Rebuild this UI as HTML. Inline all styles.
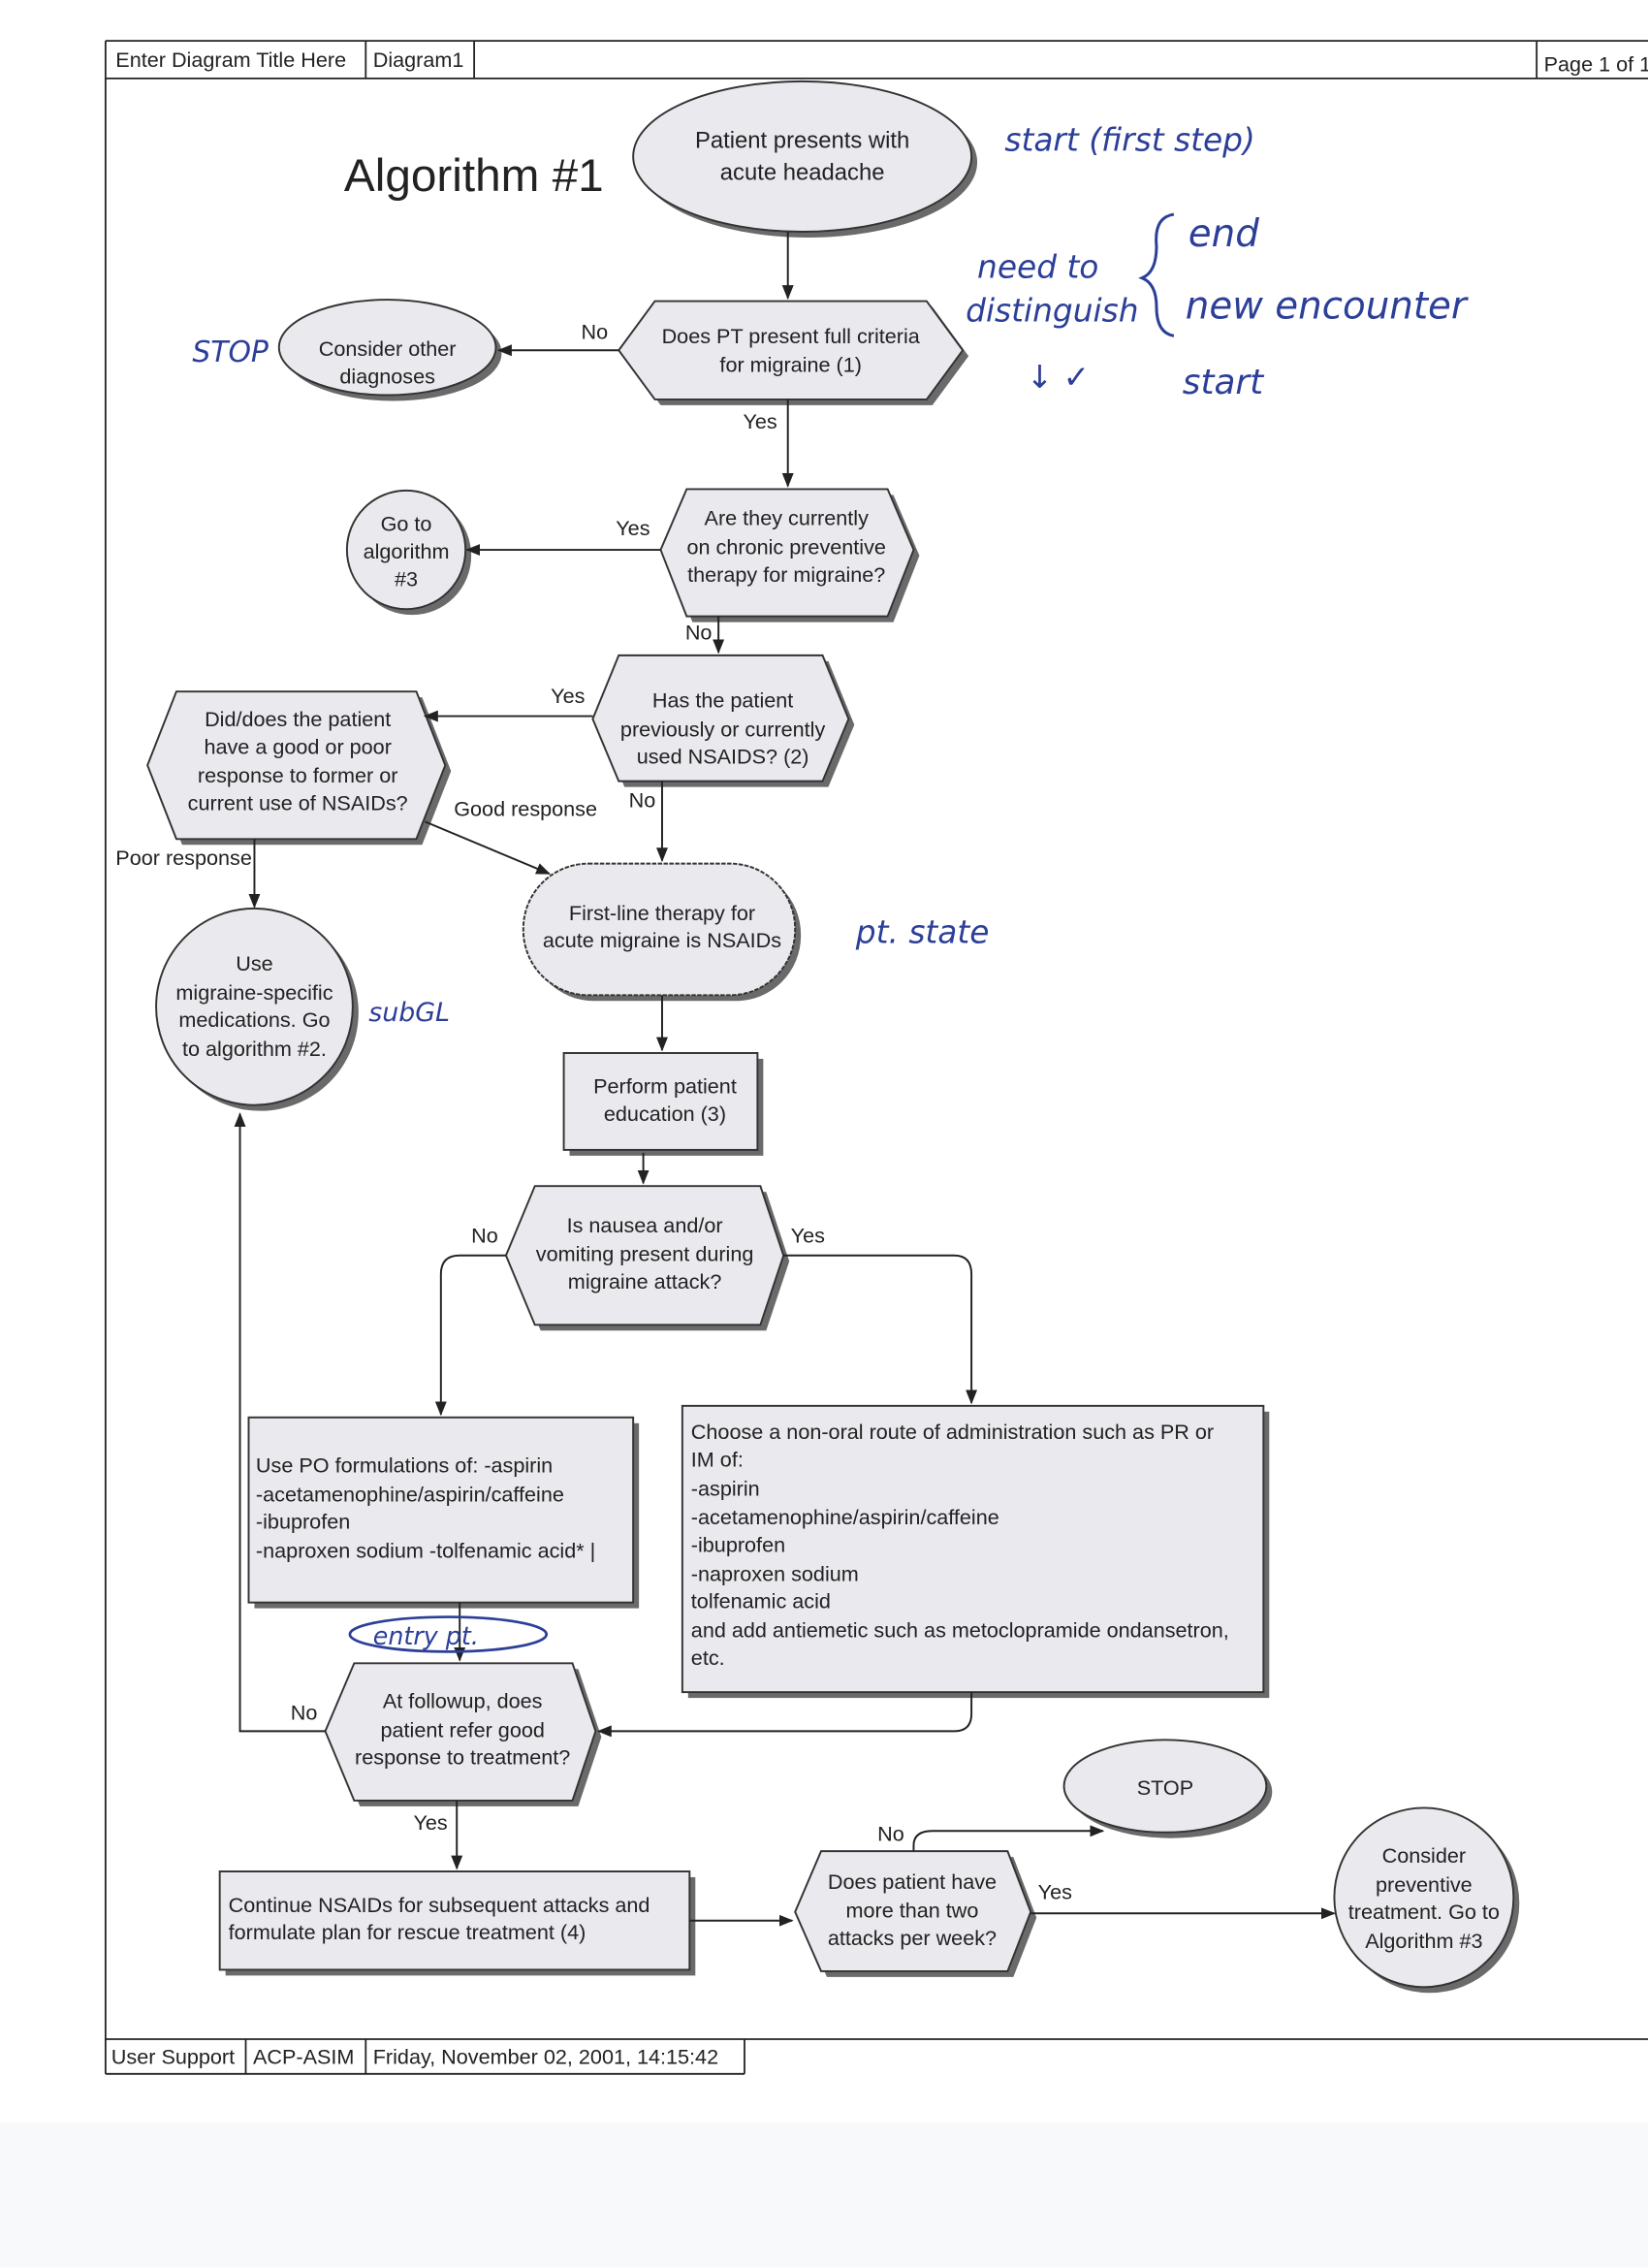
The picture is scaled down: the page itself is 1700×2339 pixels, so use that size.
<!DOCTYPE html>
<html><head><meta charset="utf-8"><style>
html,body{margin:0;padding:0;background:#fff}
svg{display:block}
text{font-family:"Liberation Sans",Arial,sans-serif;font-size:14.5px;fill:#222}
.hw{font-family:"DejaVu Sans","Liberation Sans",sans-serif;font-style:italic;fill:#2c3f98;font-size:22px}
.sh{fill:#6a6a6a}
.nd{fill:#e9e9ee;stroke:#333;stroke-width:1.3}
.ln{stroke:#222;stroke-width:1.3;fill:none}
</style></head><body>
<svg width="1700" height="2339" viewBox="0 0 1140 1568" xmlns="http://www.w3.org/2000/svg">
<defs><marker id="a" markerWidth="10" markerHeight="10" refX="9" refY="5" orient="auto" markerUnits="userSpaceOnUse"><path d="M0,1 L10,5 L0,9 z" fill="#222"/></marker></defs>
<rect x="0" y="1468" width="1140" height="100" fill="#f8f9fb"/>
<g class="ln" style="stroke-width:1.2">
<line x1="73" y1="28" x2="1140" y2="28"/><line x1="73" y1="54" x2="1140" y2="54"/>
<line x1="73" y1="28" x2="73" y2="1434"/><line x1="253" y1="28" x2="253" y2="54"/><line x1="328" y1="28" x2="328" y2="54"/><line x1="1063" y1="28" x2="1063" y2="54"/>
<line x1="73" y1="1410" x2="1140" y2="1410"/><line x1="73" y1="1434" x2="515" y2="1434"/>
<line x1="170" y1="1410" x2="170" y2="1434"/><line x1="253" y1="1410" x2="253" y2="1434"/><line x1="515" y1="1410" x2="515" y2="1434"/>
</g>
<text x="80" y="46">Enter Diagram Title Here</text><text x="258" y="46">Diagram1</text><text x="1068" y="49">Page 1 of 1</text>
<text x="77" y="1427">User Support</text><text x="175" y="1427">ACP-ASIM</text><text x="258" y="1427">Friday, November 02, 2001, 14:15:42</text>
<text x="238" y="132" style="font-size:32px">Algorithm #1</text>

<g class="sh">
<ellipse cx="559" cy="112" rx="117" ry="52"/>
<polygon points="432,246 457,212 645,212 670,246 645,280 457,280"/>
<ellipse cx="272" cy="244" rx="75" ry="33"/>
<polygon points="461,384 479,342 618,342 636,384 618,430 479,430"/>
<circle cx="285" cy="384" r="41"/>
<polygon points="414,501 432,457 573,457 591,501 573,544 432,544"/>
<polygon points="106,533 126,482 292,482 312,533 292,584 126,584"/>
<rect x="366" y="601" width="188" height="91" rx="45"/>
<circle cx="180" cy="700" r="68"/>
<rect x="394" y="732" width="134" height="67"/>
<polygon points="354,872 374,824 530,824 546,872 530,920 374,920"/>
<rect x="176" y="984" width="266" height="128"/>
<rect x="476" y="976" width="402" height="198"/>
<polygon points="229,1201 249,1154 400,1154 416,1201 400,1249 249,1249"/>
<rect x="156" y="1298" width="325" height="68"/>
<polygon points="554,1326 572,1284 701,1284 717,1326 701,1367 572,1367"/>
<ellipse cx="810" cy="1239" rx="70" ry="32"/>
<circle cx="989" cy="1316" r="62"/>
</g>
<ellipse class="nd" cx="555" cy="108" rx="117" ry="52"/>
<polygon class="nd" points="428,242 453,208 641,208 666,242 641,276 453,276"/>
<ellipse class="nd" cx="268" cy="240" rx="75" ry="33"/>
<polygon class="nd" points="457,380 475,338 614,338 632,380 614,426 475,426"/>
<circle class="nd" cx="281" cy="380" r="41"/>
<polygon class="nd" points="410,497 428,453 569,453 587,497 569,540 428,540"/>
<polygon class="nd" points="102,529 122,478 288,478 308,529 288,580 122,580"/>
<rect class="nd" x="362" y="597" width="188" height="91" rx="45" style="stroke-dasharray:3 1"/>
<circle class="nd" cx="176" cy="696" r="68"/>
<rect class="nd" x="390" y="728" width="134" height="67"/>
<polygon class="nd" points="350,868 370,820 526,820 542,868 526,916 370,916"/>
<rect class="nd" x="172" y="980" width="266" height="128"/>
<rect class="nd" x="472" y="972" width="402" height="198"/>
<polygon class="nd" points="225,1197 245,1150 396,1150 412,1197 396,1245 245,1245"/>
<rect class="nd" x="152" y="1294" width="325" height="68"/>
<polygon class="nd" points="550,1322 568,1280 697,1280 713,1322 697,1363 568,1363"/>
<ellipse class="nd" cx="806" cy="1235" rx="70" ry="32"/>
<circle class="nd" cx="985" cy="1312" r="62"/>

<g class="ln" marker-end="url(#a)">
<line x1="545" y1="160" x2="545" y2="206"/>
<line x1="428" y1="242" x2="345" y2="242"/>
<line x1="545" y1="276" x2="545" y2="336"/>
<line x1="457" y1="380" x2="323" y2="380"/>
<line x1="497" y1="426" x2="497" y2="451"/>
<line x1="410" y1="495" x2="294" y2="495"/>
<line x1="458" y1="540" x2="458" y2="595"/>
<line x1="294" y1="568" x2="380" y2="604"/>
<line x1="176" y1="580" x2="176" y2="627"/>
<line x1="458" y1="688" x2="458" y2="726"/>
<line x1="445" y1="797" x2="445" y2="818"/>
<path d="M350,868 H318 Q305,868 305,881 V978"/>
<path d="M542,868 H660 Q672,868 672,881 V970"/>
<line x1="318" y1="1108" x2="318" y2="1148"/>
<path d="M672,1170 V1185 Q672,1197 660,1197 H414"/>
<path d="M225,1197 H166 V770"/>
<line x1="316" y1="1245" x2="316" y2="1292"/>
<line x1="477" y1="1328" x2="548" y2="1328"/>
<line x1="713" y1="1323" x2="923" y2="1323"/>
<path d="M632,1280 V1276 Q632,1266 645,1266 H763"/>
</g>
<text x="402" y="234">No</text><text x="514" y="296">Yes</text><text x="426" y="370">Yes</text><text x="474" y="442">No</text>
<text x="381" y="486">Yes</text><text x="435" y="558">No</text><text x="314" y="564">Good response</text><text x="80" y="598">Poor response</text>
<text x="326" y="859">No</text><text x="547" y="859">Yes</text><text x="201" y="1189">No</text><text x="286" y="1265">Yes</text>
<text x="607" y="1273">No</text><text x="718" y="1313">Yes</text>

<g text-anchor="middle">
<text x="555" y="102" style="font-size:16px">Patient presents with</text><text x="555" y="124" style="font-size:16px">acute headache</text>
<text x="547" y="237">Does PT present full criteria</text><text x="547" y="257">for migraine (1)</text>
<text x="268" y="246">Consider other</text><text x="268" y="265">diagnoses</text>
<text x="544" y="363">Are they currently</text><text x="544" y="383">on chronic preventive</text><text x="544" y="402">therapy for migraine?</text>
<text x="281" y="367">Go to</text><text x="281" y="386">algorithm</text><text x="281" y="405">#3</text>
<text x="500" y="489">Has the patient</text><text x="500" y="509">previously or currently</text><text x="500" y="528">used NSAIDS? (2)</text>
<text x="206" y="502">Did/does the patient</text><text x="206" y="521">have a good or poor</text><text x="206" y="541">response to former or</text><text x="206" y="560">current use of NSAIDs?</text>
<text x="458" y="636">First-line therapy for</text><text x="458" y="655">acute migraine is NSAIDs</text>
<text x="176" y="671">Use</text><text x="176" y="691">migraine-specific</text><text x="176" y="710">medications.  Go</text><text x="176" y="730">to algorithm #2.</text>
<text x="460" y="756">Perform patient</text><text x="460" y="775">education (3)</text>
<text x="446" y="852">Is nausea and/or</text><text x="446" y="872">vomiting present during</text><text x="446" y="891">migraine attack?</text>
<text x="320" y="1181">At followup, does</text><text x="320" y="1201">patient refer good</text><text x="320" y="1220">response to treatment?</text>
<text x="631" y="1306">Does patient have</text><text x="631" y="1326">more than two</text><text x="631" y="1345">attacks per week?</text>
<text x="806" y="1241">STOP</text>
<text x="985" y="1288">Consider</text><text x="985" y="1308">preventive</text><text x="985" y="1327">treatment. Go to</text><text x="985" y="1347">Algorithm #3</text>
</g>
<text x="177" y="1018">Use PO formulations of: -aspirin</text><text x="177" y="1038">-acetamenophine/aspirin/caffeine</text><text x="177" y="1057">-ibuprofen</text><text x="177" y="1077">-naproxen sodium -tolfenamic acid* |</text>
<text x="478" y="995">Choose a non-oral route of administration such as PR or</text><text x="478" y="1014">IM of:</text><text x="478" y="1034">-aspirin</text><text x="478" y="1054">-acetamenophine/aspirin/caffeine</text><text x="478" y="1073">-ibuprofen</text><text x="478" y="1093">-naproxen sodium</text><text x="478" y="1112">tolfenamic acid</text><text x="478" y="1132">and add antiemetic such as metoclopramide ondansetron,</text><text x="478" y="1151">etc.</text>
<text x="158" y="1322">Continue NSAIDs for subsequent attacks and</text><text x="158" y="1341">formulate plan for rescue treatment (4)</text>

<text class="hw" x="695" y="104">start (first step)</text>
<text class="hw" x="676" y="192">need to</text>
<text class="hw" x="668" y="222">distinguish</text>
<text class="hw" x="710" y="268">↓  ✓</text>
<path d="M812,148 Q798,150 800,170 Q800,188 790,192 Q800,196 800,212 Q800,230 812,232" fill="none" stroke="#2c3f98" stroke-width="2"/>
<text class="hw" x="822" y="170" style="font-size:26px">end</text>
<text class="hw" x="820" y="220" style="font-size:26px">new encounter</text>
<text class="hw" x="818" y="272" style="font-size:24px">start</text>
<text class="hw" x="133" y="250" style="font-size:20px">STOP</text>
<text class="hw" x="592" y="652" style="font-size:22px">pt. state</text>
<text class="hw" x="255" y="706" style="font-size:18px">subGL</text>
<ellipse cx="310" cy="1130" rx="68" ry="12" fill="none" stroke="#2c3f98" stroke-width="1.8"/>
<text class="hw" x="258" y="1137" style="font-size:17px">entry pt.</text>
</svg>
</body></html>
